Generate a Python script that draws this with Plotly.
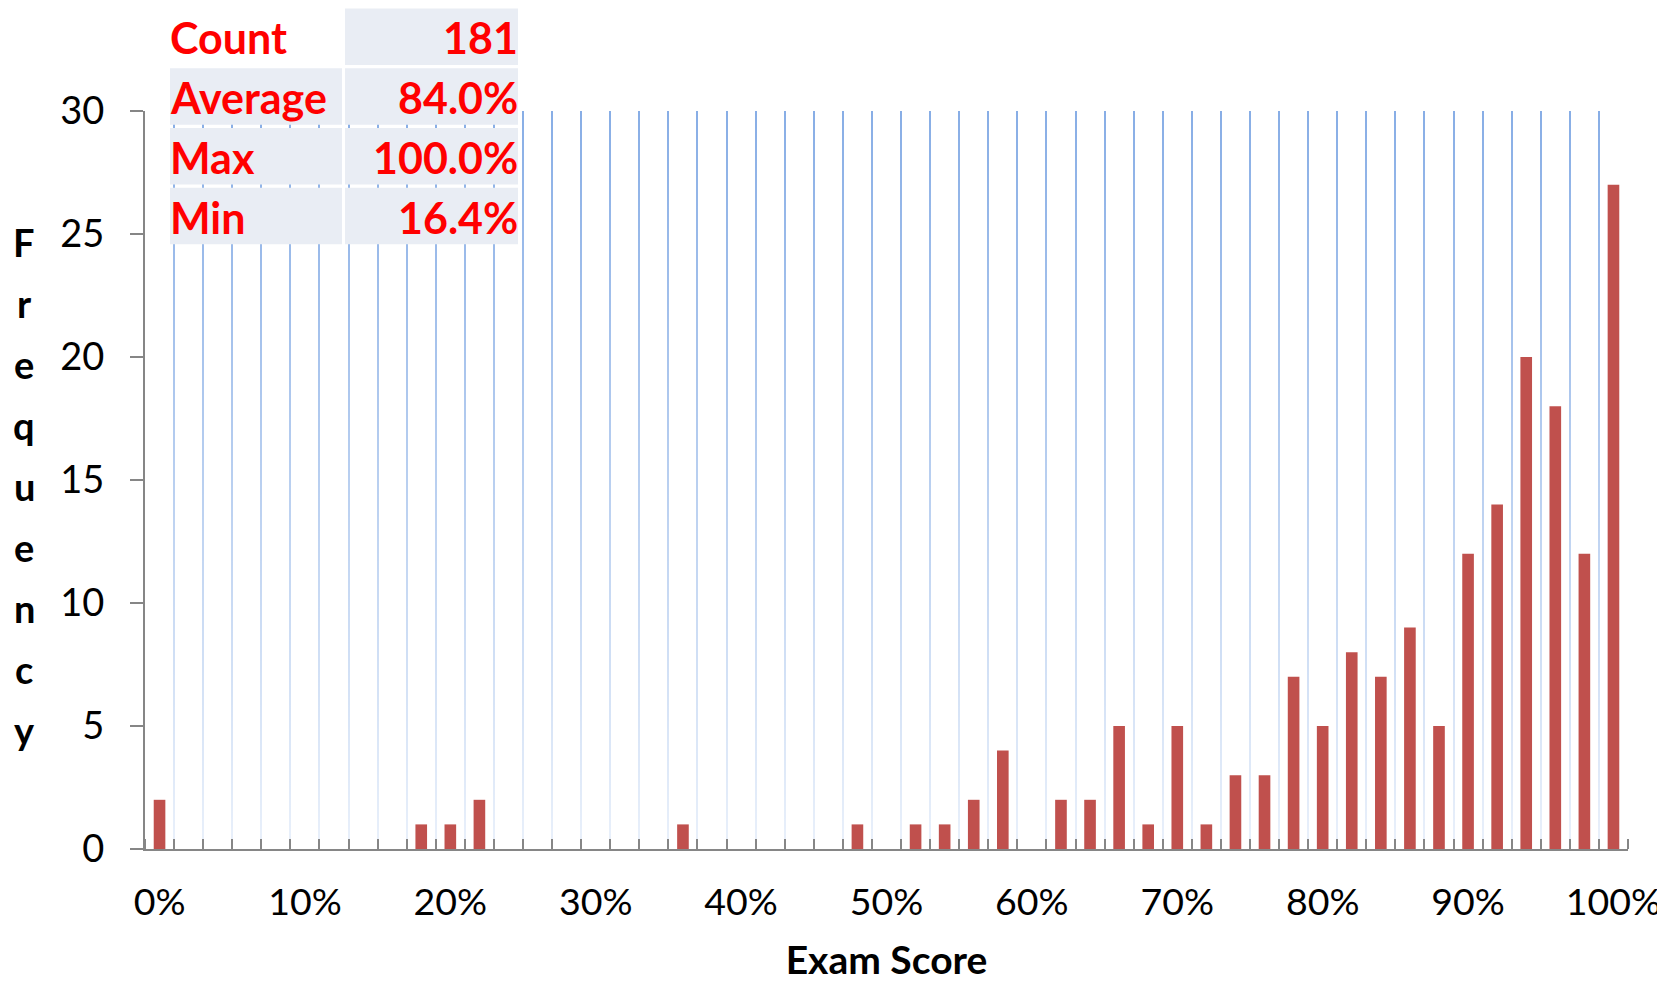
import plotly.graph_objects as go

# ---- data ----
score_bins = [0, 2, 4, 6, 8, 10, 12, 14, 16, 18, 20, 22, 24, 26, 28, 30, 32, 34, 36, 38,
              40, 42, 44, 46, 48, 50, 52, 54, 56, 58, 60, 62, 64, 66, 68, 70, 72, 74, 76, 78,
              80, 82, 84, 86, 88, 90, 92, 94, 96, 98, 100]
frequency = [2, 0, 0, 0, 0, 0, 0, 0, 0, 1,
             1, 2, 0, 0, 0, 0, 0, 0, 1, 0,
             0, 0, 0, 0, 1, 0, 1, 1, 2, 4,
             0, 2, 2, 5, 1, 5, 1, 3, 3, 7,
             5, 8, 7, 9, 5, 12, 14, 20, 18, 12, 27]
x_tick_values = [0, 10, 20, 30, 40, 50, 60, 70, 80, 90, 100]
x_tick_labels = ["0%", "10%", "20%", "30%", "40%", "50%", "60%", "70%", "80%", "90%", "100%"]
y_tick_values = [0, 5, 10, 15, 20, 25, 30]
stat_labels = ["Count", "Average", "Max", "Min"]
stat_values = ["181", "84.0%", "100.0%", "16.4%"]
y_title = "Frequency"
x_title = "Exam Score"

# ---- style ----
FONT = "Lato"
BAR = "#C0504D"
AXIS = "#868686"
GRID = "#88AEE6"
CELL = "#E9EDF4"
RED = "#FF0000"

x_range = [-1, 101]
y_range = [0, 30]

# page geometry (the page body has an 8px margin)
PAGE_W, PAGE_H, BODY = 1665, 982, 8
W, H = PAGE_W - BODY, PAGE_H - BODY
PLOT_L, PLOT_R, PLOT_T, PLOT_B = 145, 1628, 111, 849.5
ML = PLOT_L - BODY
MR = PAGE_W - PLOT_R
MB = PAGE_H - PLOT_B
MT = 0
paper_h = H - MT - MB
y_dom_top = (PLOT_B - PLOT_T) / paper_h


def py(pix):
    return (PLOT_B - pix) / paper_h


def px(pix):
    return (pix - PLOT_L) / (PLOT_R - PLOT_L)


fig = go.Figure()

# soft white fade over the gridlines toward the bottom (main subplot, under the bars)
fig.add_trace(go.Scatter(
    x=[x_range[0], x_range[1], x_range[1], x_range[0], x_range[0]],
    y=[y_range[0], y_range[0], y_range[1], y_range[1], y_range[0]],
    mode="lines", line=dict(width=0), fill="toself",
    fillgradient=dict(type="vertical",
                      colorscale=[[0, "rgba(255,255,255,0.82)"], [1, "rgba(255,255,255,0)"]]),
    hoverinfo="skip", showlegend=False,
))

fig.add_trace(go.Bar(
    x=score_bins, y=frequency, xaxis="x2", yaxis="y2",
    marker=dict(color=BAR, line=dict(width=0)),
    hoverinfo="x+y", showlegend=False,
))

# summary table
TBL_X0, TBL_XM0, TBL_XM1, TBL_X1 = 170, 342, 345, 518
TBL_Y0, ROW_H, ROW_P = 8.5, 56.5, 59.8
for i, (lab, val) in enumerate(zip(stat_labels, stat_values)):
    y0 = TBL_Y0 + i * ROW_P
    y1 = y0 + ROW_H
    if i > 0:
        fig.add_shape(type="rect", xref="paper", yref="paper",
                      x0=px(TBL_X0), x1=px(TBL_XM0), y0=py(y1), y1=py(y0),
                      fillcolor=CELL, line=dict(width=0), layer="above")
    fig.add_shape(type="rect", xref="paper", yref="paper",
                  x0=px(TBL_XM1), x1=px(TBL_X1), y0=py(y1), y1=py(y0),
                  fillcolor=CELL, line=dict(width=0), layer="above")
    yc = py((y0 + y1) / 2 + 1)
    fig.add_annotation(text="<b>%s</b>" % lab, xref="paper", yref="paper",
                       x=px(TBL_X0 - 2), y=yc, xanchor="left", yanchor="middle",
                       showarrow=False, font=dict(family=FONT, size=43, color=RED))
    fig.add_annotation(text="<b>%s</b>" % val, xref="paper", yref="paper",
                       x=px(TBL_X1 + 2), y=yc, xanchor="right", yanchor="middle",
                       showarrow=False, font=dict(family=FONT, size=43, color=RED))

# vertical stacked y-axis title
n = len(y_title)
top_c, bot_c = 242, 730
for i, ch in enumerate(y_title):
    ypix = top_c + (bot_c - top_c) * i / (n - 1)
    fig.add_annotation(
        text="<b>%s</b>" % ch, xref="paper", yref="paper",
        x=px(24), y=py(ypix), xanchor="center", yanchor="middle",
        showarrow=False, font=dict(family=FONT, size=38, color="black"),
    )

fig.update_layout(
    width=W, height=H,
    margin=dict(l=ML, r=MR, t=MT, b=MB, pad=0),
    paper_bgcolor="white", plot_bgcolor="white",
    bargap=0.6, showlegend=False,
    font=dict(family=FONT, color="black"),
    xaxis=dict(
        range=x_range, tickmode="array", tickvals=x_tick_values, ticktext=x_tick_labels,
        ticks="", showgrid=False, zeroline=False,
        showline=True, linecolor=AXIS, linewidth=2,
        tickfont=dict(family=FONT, size=37.5, color="black"),
        ticklabelstandoff=19,
        minor=dict(tick0=1, dtick=2, ticks="inside", ticklen=10, tickwidth=2,
                   tickcolor=AXIS, showgrid=True, gridcolor=GRID, gridwidth=2),
        title=dict(text="<b>%s</b>" % x_title, font=dict(family=FONT, size=39, color="black"),
                   standoff=28),
        automargin=False,
    ),
    yaxis=dict(
        range=y_range, domain=[0, y_dom_top], tickmode="array", tickvals=y_tick_values,
        ticks="outside", ticklen=13, tickwidth=2, tickcolor=AXIS,
        showline=True, linecolor=AXIS, linewidth=2,
        showgrid=False, zeroline=False,
        tickfont=dict(family=FONT, size=38, color="black"),
        ticklabelstandoff=18,
        automargin=False,
    ),
    xaxis2=dict(range=x_range, overlaying="x", visible=False),
    yaxis2=dict(range=y_range, overlaying="y", visible=False),
)

fig.write_html("out.html")
